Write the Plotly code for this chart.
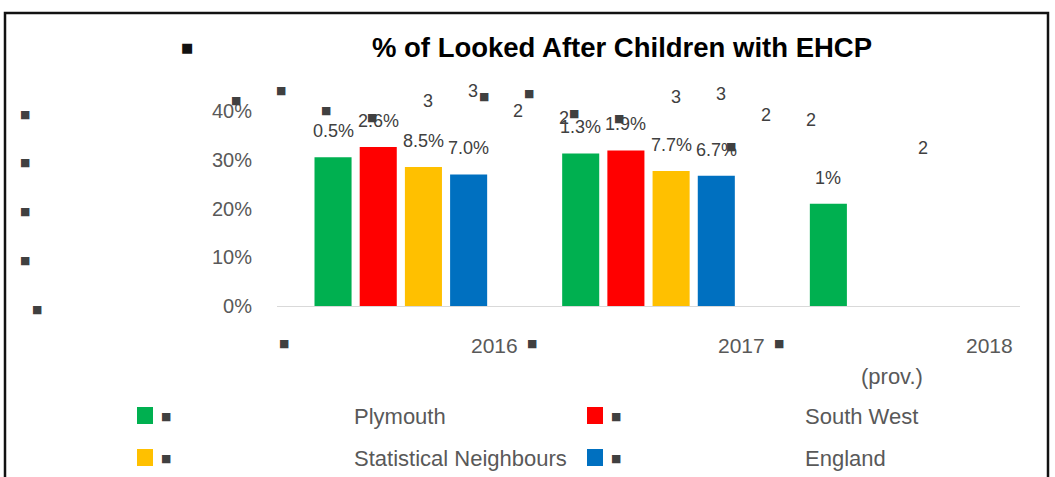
import plotly.graph_objects as go

# ---------------- data ----------------
categories = ["2016", "2017", "2018"]
category_note = "(prov.)"
series_names = ["Plymouth", "South West", "Statistical Neighbours", "England"]
plymouth = [0.305, 0.313, 0.21]
south_west = [0.326, 0.319, None]
stat_neighbours = [0.285, 0.277, None]
england = [0.270, 0.267, None]
plymouth_labels = ["30.5%", "31.3%", "21%"]
south_west_labels = ["32.6%", "31.9%", None]
stat_neighbours_labels = ["28.5%", "27.7%", None]
england_labels = ["27.0%", "26.7%", None]
y_ticks = [0, 0.1, 0.2, 0.3, 0.4]
y_tick_labels = ["0%", "10%", "20%", "30%", "40%"]
title_text = "% of Looked After Children with EHCP"

colors = ["#00B050", "#FF0000", "#FFC000", "#0070C0"]
series = [plymouth, south_west, stat_neighbours, england]
labels = [plymouth_labels, south_west_labels, stat_neighbours_labels, england_labels]

W, H = 1055, 477
L, T = 277, 111
PW = 1020 - 277
PH = 306 - 111
R = W - L - PW
B = H - T - PH
BARGAP, GROUPGAP = 0.27, 0.18
FONT = "Liberation Sans"
GREY = "#595959"
DARK = "#404040"


def px(xp):
    return (xp - L) / PW


def py(yp):
    return (T + PH - yp) / PH


def marker(x, y, xref, yref, size=11, color=DARK, **kw):
    d = dict(x=x, y=y, xref=xref, yref=yref, text="■", showarrow=False,
             xanchor="center", yanchor="middle",
             font=dict(size=size, color=color, family="DejaVu Sans"))
    d.update(kw)
    return d


fig = go.Figure()
for name, vals, col in zip(series_names, series, colors):
    fig.add_trace(go.Bar(name=name, x=categories, y=vals, marker_color=col,
                         marker_line_width=0, showlegend=False, hoverinfo="skip"))

ann = []
slot = (1 - BARGAP) / len(series)
for j, (vals, labs) in enumerate(zip(series, labels)):
    off = (j - (len(series) - 1) / 2) * slot
    for i, (v, lab) in enumerate(zip(vals, labs)):
        if v is None:
            continue
        xc = i + off
        # broken label: main text, detached first digit, stray marker
        ann.append(dict(x=xc, y=v, xref="x", yref="y", text=lab[1:], showarrow=False,
                        xanchor="center", yanchor="middle",
                        yshift=26, font=dict(size=18, color=DARK, family=FONT)))
        ann.append(dict(x=xc, y=v, xref="x", yref="y", text=lab[0], showarrow=False,
                        xanchor="center", yanchor="middle",
                        yshift=56, xshift=95, font=dict(size=18, color=DARK, family=FONT)))
        ann.append(marker(xc, v, "x", "y", yshift=57, xshift=-97))

# x category labels (right-aligned at category boundary)
for i, c in enumerate(categories):
    ann.append(dict(x=i + 0.5, y=0, xref="x", yref="y", text=c, showarrow=False,
                    xanchor="right", yanchor="middle", xshift=-5, yshift=-39,
                    font=dict(size=21, color=GREY, family=FONT)))
    ann.append(marker(i - 0.5, 0, "x", "y", xshift=7, yshift=-37))
ann.append(dict(x=len(categories) - 0.5, y=0, xref="x", yref="y", text=category_note,
                showarrow=False, xanchor="right", yanchor="middle", xshift=-95, yshift=-70,
                font=dict(size=22, color=GREY, family=FONT)))

# y tick stray markers
for t, tl in zip(y_ticks, y_tick_labels):
    ann.append(marker(px(37 if len(tl) == 2 else 25), t, "paper", "y", yshift=-3))

# title marker
ann.append(marker(px(187), py(47), "paper", "paper", size=13, color="#111111"))

# custom legend
shapes = []
leg_pos = [(137, 352, 416), (587, 803, 416), (137, 352, 458), (587, 803, 458)]
for (sx, tx, ly), name, col in zip(leg_pos, series_names, colors):
    shapes.append(dict(type="rect", xref="paper", yref="paper",
                       x0=px(sx), x1=px(sx + 16), y0=py(ly + 8), y1=py(ly - 9),
                       fillcolor=col, line_width=0))
    ann.append(marker(px(sx + 29), py(ly), "paper", "paper"))
    ann.append(dict(x=px(tx), y=py(ly), xref="paper", yref="paper", text=name,
                    showarrow=False, xanchor="left", yanchor="middle",
                    font=dict(size=22, color=GREY, family=FONT)))

# outer frame
shapes.append(dict(type="rect", xref="paper", yref="paper",
                   x0=px(5), x1=px(1048), y0=py(500), y1=py(13),
                   line=dict(color="#111111", width=2.5), fillcolor="rgba(0,0,0,0)"))

fig.update_layout(
    width=W, height=H,
    margin=dict(l=L, r=R, t=T, b=B),
    barmode="group", bargap=BARGAP, bargroupgap=GROUPGAP,
    plot_bgcolor="white", paper_bgcolor="white",
    title=dict(text="<b>" + title_text + "</b>", x=622 / W, xanchor="center",
               y=1 - 47 / H, yanchor="middle",
               font=dict(size=27.5, color="#000000", family=FONT)),
    annotations=ann, shapes=shapes, showlegend=False,
)
fig.update_xaxes(type="category", showticklabels=False, showgrid=False,
                 showline=True, linecolor="#D9D9D9", linewidth=1, ticks="",
                 range=[-0.5, len(categories) - 0.5], zeroline=False)
fig.update_yaxes(range=[0, 0.4], tickvals=y_ticks, ticktext=y_tick_labels,
                 showgrid=False, zeroline=False, showline=False, ticks="",
                 ticklabelstandoff=24,
                 tickfont=dict(size=20, color=GREY, family=FONT))

fig.write_html("out.html", config={"displayModeBar": False},
               post_script="document.body.style.margin='0';document.body.style.overflow='hidden';")
